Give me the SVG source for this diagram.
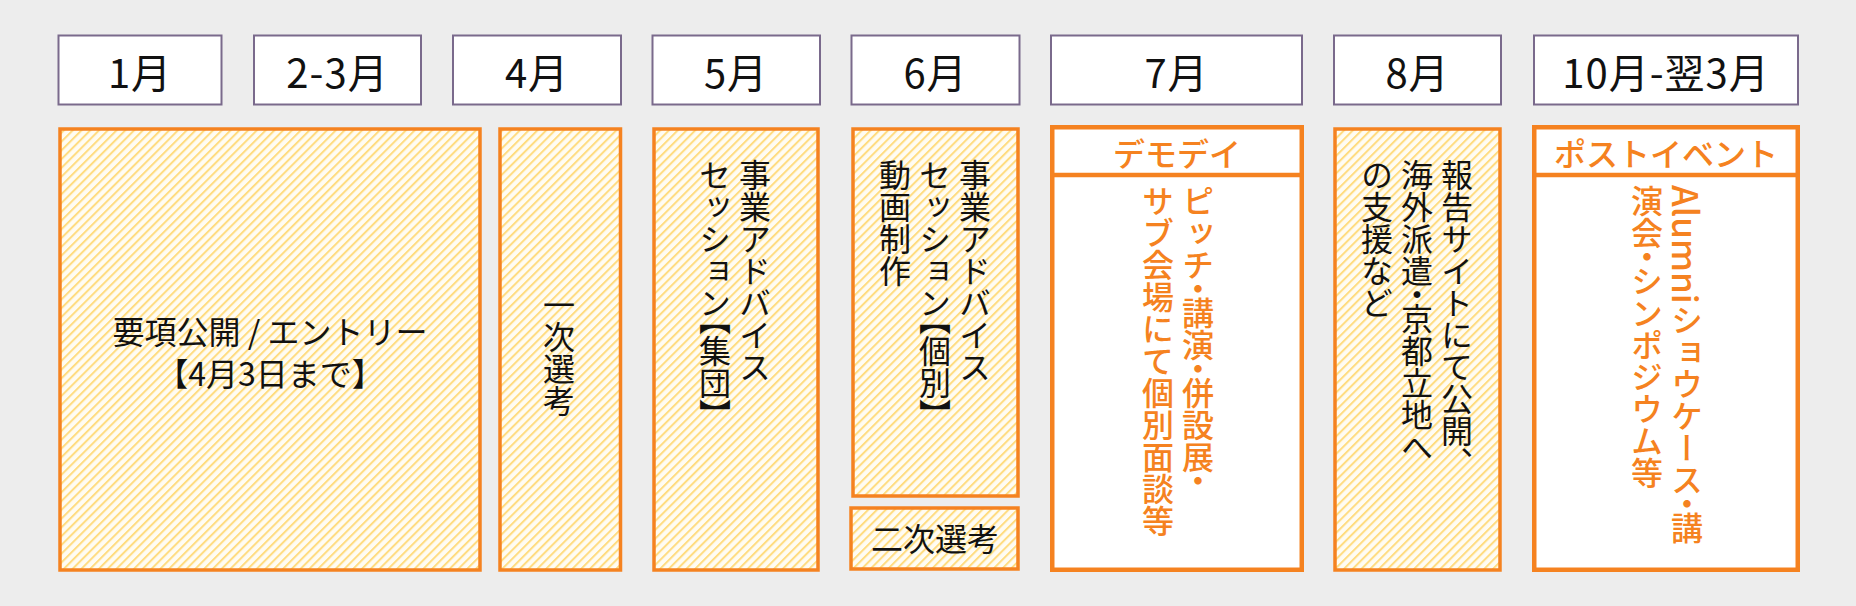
<svg xmlns="http://www.w3.org/2000/svg" width="1856" height="606" viewBox="0 0 1856 606">
<defs>
<pattern id="hatch" patternUnits="userSpaceOnUse" width="6.2" height="6.2" patternTransform="rotate(45)">
<rect width="6.2" height="6.2" fill="#FFFCF3"/>
<rect width="2" height="6.2" fill="#FFDC80"/>
</pattern>
</defs>
<style>
.hdr rect{fill:#fff;stroke:#7A6A8C;stroke-width:2}
.hdr text{font-family:"Noto Sans CJK JP","Noto Sans",sans-serif;font-size:40px;letter-spacing:1px;fill:#111;text-anchor:middle}
.hb{fill:url(#hatch);stroke:#F58220;stroke-width:3.5}
.wb{fill:#fff;stroke:#F58220;stroke-width:4.5}
.dv{stroke:#F58220;stroke-width:4.5}
.t{font-family:"Noto Sans CJK JP","Noto Sans",sans-serif;font-size:32px;fill:#111}
.v{writing-mode:vertical-rl;font-feature-settings:"vhal" 1}
.o{fill:#F58220;font-weight:500}
.c{text-anchor:middle}
</style>
<rect width="1856" height="606" fill="#EDEDED"/>
<g id="headers" class="hdr">
<g id="h1"><rect x="58.5" y="35.5" width="163" height="69"/><text x="140" y="88">1月</text></g>
<g id="h2"><rect x="254" y="35.5" width="167" height="69"/><text x="337.5" y="88">2-3月</text></g>
<g id="h4"><rect x="453" y="35.5" width="168" height="69"/><text x="537" y="88">4月</text></g>
<g id="h5"><rect x="652.5" y="35.5" width="167.5" height="69"/><text x="736" y="88">5月</text></g>
<g id="h6"><rect x="851.5" y="35.5" width="168" height="69"/><text x="935.5" y="88">6月</text></g>
<g id="h7"><rect x="1051" y="35.5" width="251" height="69"/><text x="1176.5" y="88">7月</text></g>
<g id="h8"><rect x="1334" y="35.5" width="167" height="69"/><text x="1417.5" y="88">8月</text></g>
<g id="h10"><rect x="1534" y="35.5" width="264" height="69"/><text x="1666" y="88">10月-翌3月</text></g>
</g>
<g id="entry">
<rect class="hb" x="60" y="129" width="420" height="441"/>
<text class="t c" x="270" y="344" font-size="31" xml:space="preserve">要項公開 / エントリー</text>
<text class="t c" x="270" y="386" font-size="31">【4月3日まで】</text>
</g>
<g id="first-selection">
<rect class="hb" x="500" y="129" width="120.5" height="441"/>
<text class="t v" x="559" y="289">一次選考</text>
</g>
<g id="may">
<rect class="hb" x="654" y="129" width="164" height="441"/>
<text class="t v" x="755" y="159">事業アドバイス</text>
<text class="t v" x="715" y="159">セッション【集団】</text>
</g>
<g id="june">
<rect class="hb" x="853" y="129" width="165" height="367"/>
<text class="t v" x="975" y="159">事業アドバイス</text>
<text class="t v" x="935" y="159">セッション【個別】</text>
<text class="t v" x="895" y="159">動画制作</text>
</g>
<g id="second-selection">
<rect class="hb" x="851" y="508" width="167" height="61"/>
<text class="t c" x="935" y="551" font-size="26">二次選考</text>
</g>
<g id="demoday">
<rect class="wb" x="1052.25" y="127.25" width="249.5" height="442.5"/>
<line class="dv" x1="1052" y1="175" x2="1302" y2="175"/>
<text class="t c o" x="1177" y="166" font-size="30">デモデイ</text>
<text class="t v o" x="1198" y="185">ピッチ・講演・併設展・</text>
<text class="t v o" x="1158" y="185">サブ会場にて個別面談等</text>
</g>
<g id="august">
<rect class="hb" x="1335" y="129" width="165" height="441"/>
<text class="t v" x="1457" y="159">報告サイトにて公開、</text>
<text class="t v" x="1417" y="159">海外派遣・京都立地へ</text>
<text class="t v" x="1377" y="159">の支援など</text>
</g>
<g id="post-event">
<rect class="wb" x="1534.25" y="127.25" width="263.5" height="442.5"/>
<line class="dv" x1="1534" y1="175" x2="1798" y2="175"/>
<text class="t c o" x="1666" y="166" font-size="30">ポストイベント</text>
<text class="t v o" x="1687" y="185"><tspan font-size="35">Alumni</tspan>ショウケース・講</text>
<text class="t v o" x="1647" y="185">演会・シンポジウム等</text>
</g>
</svg>
